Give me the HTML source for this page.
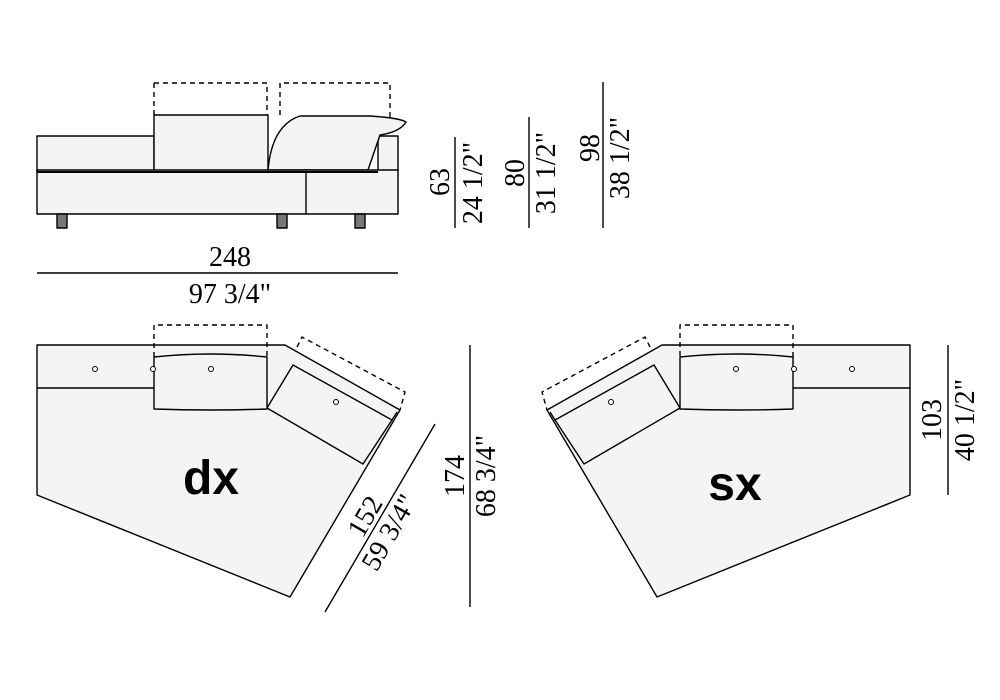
<!DOCTYPE html>
<html><head><style>
html,body{margin:0;padding:0;background:#fff;}
svg{display:block;}
text{font-family:"Liberation Serif",serif;font-size:28px;fill:#000;}
.b{font-family:"Liberation Sans",sans-serif;font-weight:bold;font-size:48px;}
</style></head><body>
<svg width="1000" height="700" viewBox="0 0 1000 700" xmlns="http://www.w3.org/2000/svg">
<g stroke="#000" stroke-width="1.4" fill="#f4f4f4" stroke-linejoin="round">
 <!-- side view -->
 <path d="M154,83 V115 M154,83 H267 V115 M280,115 V83 H390 V118" fill="none" stroke-dasharray="5,4"/>
 <rect x="37" y="136" width="117" height="36"/>
 <rect x="378" y="136" width="20" height="36"/>
 <rect x="154" y="115" width="114" height="57"/>
 <path d="M268,170 Q272,125 300,116 L370,116 Q400,118 406,122 Q400,132 380,135 L368,170 Z"/>
 <rect x="37" y="170" width="361" height="44"/>
 <line x1="306" y1="172" x2="306" y2="214"/>
 <line x1="37" y1="172" x2="378" y2="172" stroke-width="2"/>
 <g fill="#777"><rect x="57" y="214" width="10" height="14"/><rect x="277" y="214" width="10" height="14"/><rect x="355" y="214" width="10" height="14"/></g>
 <!-- dx plan -->
 <path d="M37,345 H285 L400,410 L290,597 L37,495 Z"/>
 <line x1="37" y1="388" x2="154" y2="388"/>
 <path d="M154,357 Q210,351 267,357 L267,409 Q210,411 154,409 Z"/>
 <path d="M293,365 L392,420 L363,464 L267,408 Z"/>
 <path d="M392,420 L397,412" fill="none"/>
 <path d="M154,357 V325 H267 V357 M297,347 L302,337 L405,392 L400,410" fill="none" stroke-dasharray="5,4"/>
 <g fill="#fff" stroke-width="1"><circle cx="95" cy="369" r="2.5"/><circle cx="153" cy="369" r="2.5"/><circle cx="211" cy="369" r="2.5"/><circle cx="336" cy="402" r="2.5"/></g>
 <!-- sx plan (mirror) -->
 <g transform="translate(947,0) scale(-1,1)">
 <path d="M37,345 H285 L400,410 L290,597 L37,495 Z"/>
 <line x1="37" y1="388" x2="154" y2="388"/>
 <path d="M154,357 Q210,351 267,357 L267,409 Q210,411 154,409 Z"/>
 <path d="M293,365 L392,420 L363,464 L267,408 Z"/>
 <path d="M392,420 L397,412" fill="none"/>
 <path d="M154,357 V325 H267 V357 M297,347 L302,337 L405,392 L400,410" fill="none" stroke-dasharray="5,4"/>
 <g fill="#fff" stroke-width="1"><circle cx="95" cy="369" r="2.5"/><circle cx="153" cy="369" r="2.5"/><circle cx="211" cy="369" r="2.5"/><circle cx="336" cy="402" r="2.5"/></g>
 </g>
 <!-- dimension lines -->
 <line x1="37" y1="273" x2="398" y2="273"/>
 <line x1="455" y1="137" x2="455" y2="228"/>
 <line x1="529" y1="117" x2="529" y2="228"/>
 <line x1="603" y1="82" x2="603" y2="228"/>
 <line x1="435" y1="424" x2="325" y2="612"/>
 <line x1="470" y1="345" x2="470" y2="607"/>
 <line x1="948" y1="345" x2="948" y2="495"/>
</g>
<text x="230" y="266" text-anchor="middle">248</text>
<text x="230" y="303" text-anchor="middle">97 3/4"</text>
<text transform="translate(449,182) rotate(-90)" text-anchor="middle">63</text>
<text transform="translate(482,183) rotate(-90)" text-anchor="middle">24 1/2"</text>
<text transform="translate(524,173) rotate(-90)" text-anchor="middle">80</text>
<text transform="translate(555,173) rotate(-90)" text-anchor="middle">31 1/2"</text>
<text transform="translate(599,148) rotate(-90)" text-anchor="middle">98</text>
<text transform="translate(629,158) rotate(-90)" text-anchor="middle">38 1/2"</text>
<text transform="translate(373,521) rotate(-60)" text-anchor="middle">152</text>
<text transform="translate(397,537) rotate(-60)" text-anchor="middle">59 3/4"</text>
<text transform="translate(464,476) rotate(-90)" text-anchor="middle">174</text>
<text transform="translate(495,476) rotate(-90)" text-anchor="middle">68 3/4"</text>
<text transform="translate(941,420) rotate(-90)" text-anchor="middle">103</text>
<text transform="translate(974,420) rotate(-90)" text-anchor="middle">40 1/2"</text>
<text class="b" x="211" y="494" text-anchor="middle">dx</text>
<text class="b" x="735" y="500" text-anchor="middle">sx</text>
</svg>
</body></html>
